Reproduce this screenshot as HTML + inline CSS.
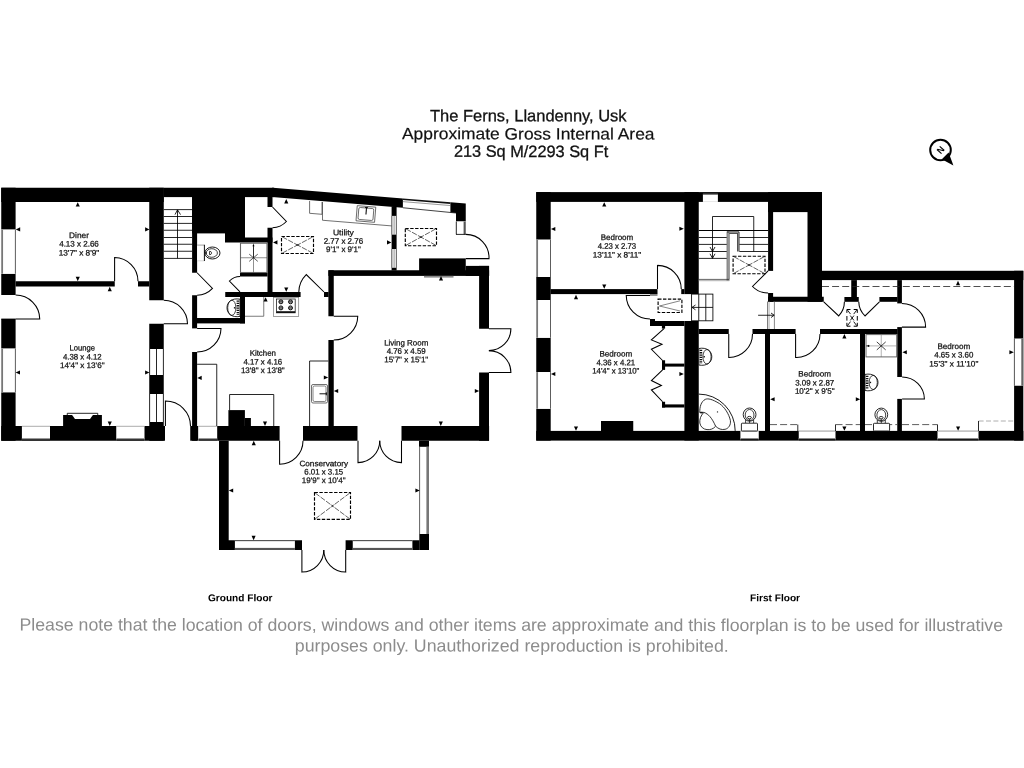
<!DOCTYPE html>
<html><head><meta charset="utf-8"><title>Floorplan</title>
<style>
html,body{margin:0;padding:0;background:#fff;}
body{width:1024px;height:768px;overflow:hidden;font-family:"Liberation Sans",sans-serif;}
svg{display:block;font-family:"Liberation Sans",sans-serif;filter:grayscale(1);}
text{text-rendering:geometricPrecision;}
</style></head><body>
<svg width="1024" height="768" viewBox="0 0 1024 768">
<rect x="0" y="0" width="1024" height="768" fill="#fff"/>
<rect x="1.25" y="187.75" width="162.50" height="14.25" fill="#000" />
<rect x="163.75" y="187.75" width="110.25" height="9.35" fill="#000" />
<polygon points="272.00,187.75 273.00,187.75 402.90,198.44 402.90,207.79 272.00,197.10" fill="#000" stroke="none" stroke-width="0"/>
<rect x="1.25" y="187.75" width="14.35" height="41.85" fill="#000" />
<rect x="1.25" y="273.75" width="14.35" height="21.25" fill="#000" />
<rect x="1.25" y="319.00" width="14.35" height="29.60" fill="#000" />
<rect x="1.25" y="392.25" width="14.35" height="48.50" fill="#000" />
<rect x="1.25" y="229.60" width="14.35" height="44.15" fill="#fff" />
<rect x="1.25" y="229.60" width="1.80" height="44.15" fill="#777" />
<line x1="15.40" y1="229.60" x2="15.40" y2="273.75" stroke="#333" stroke-width="0.8" />
<rect x="1.25" y="348.60" width="14.35" height="43.65" fill="#fff" />
<rect x="1.25" y="348.60" width="1.80" height="43.65" fill="#777" />
<line x1="15.40" y1="348.60" x2="15.40" y2="392.25" stroke="#333" stroke-width="0.8" />
<rect x="149.25" y="187.75" width="14.50" height="112.50" fill="#000" />
<rect x="149.25" y="323.75" width="14.50" height="25.25" fill="#000" />
<rect x="149.25" y="375.00" width="14.50" height="19.00" fill="#000" />
<rect x="149.25" y="422.00" width="14.50" height="18.75" fill="#000" />
<rect x="149.25" y="349.00" width="14.50" height="26.00" fill="#fff" />
<line x1="149.60" y1="349.00" x2="149.60" y2="375.00" stroke="#000" stroke-width="0.85" />
<line x1="156.50" y1="349.00" x2="156.50" y2="375.00" stroke="#000" stroke-width="0.85" />
<line x1="163.40" y1="349.00" x2="163.40" y2="375.00" stroke="#000" stroke-width="0.85" />
<rect x="149.25" y="394.00" width="14.50" height="28.00" fill="#fff" />
<line x1="149.60" y1="394.00" x2="149.60" y2="422.00" stroke="#000" stroke-width="0.85" />
<line x1="156.50" y1="394.00" x2="156.50" y2="422.00" stroke="#000" stroke-width="0.85" />
<line x1="163.40" y1="394.00" x2="163.40" y2="422.00" stroke="#000" stroke-width="0.85" />
<rect x="15.60" y="281.25" width="99.15" height="5.25" fill="#000" />
<rect x="138.00" y="281.25" width="11.25" height="5.25" fill="#000" />
<rect x="1.25" y="426.00" width="163.75" height="14.75" fill="#000" />
<rect x="21.90" y="426.00" width="28.10" height="14.75" fill="#fff" />
<rect x="21.90" y="438.15" width="28.10" height="1.20" fill="#888" />
<rect x="21.90" y="439.25" width="28.10" height="1.50" fill="#000" />
<line x1="21.90" y1="426.30" x2="50.00" y2="426.30" stroke="#888" stroke-width="0.7" />
<rect x="116.25" y="426.00" width="28.25" height="14.75" fill="#fff" />
<rect x="116.25" y="438.15" width="28.25" height="1.20" fill="#888" />
<rect x="116.25" y="439.25" width="28.25" height="1.50" fill="#000" />
<line x1="116.25" y1="426.30" x2="144.50" y2="426.30" stroke="#888" stroke-width="0.7" />
<rect x="63.10" y="415.00" width="38.80" height="11.00" fill="#000" />
<polygon points="71.90,414.80 93.10,414.80 90.00,419.10 75.00,419.10" fill="#fff" stroke="none" stroke-width="0"/>
<polyline points="67.25,415.00 67.25,413.30 97.75,413.30 97.75,415.00" fill="none" stroke="#000" stroke-width="0.85" />
<rect x="192.10" y="197.00" width="5.00" height="75.75" fill="#000" />
<rect x="192.10" y="295.25" width="5.00" height="33.15" fill="#000" />
<rect x="192.10" y="352.00" width="5.00" height="88.75" fill="#000" />
<rect x="192.10" y="197.00" width="52.90" height="36.40" fill="#000" />
<rect x="225.00" y="233.00" width="20.00" height="9.50" fill="#000" />
<rect x="245.00" y="237.50" width="27.50" height="5.00" fill="#000" />
<rect x="267.50" y="197.00" width="5.00" height="10.00" fill="#000" />
<rect x="267.50" y="227.75" width="5.00" height="64.75" fill="#000" />
<rect x="240.00" y="272.75" width="27.50" height="3.75" fill="#000" />
<rect x="225.25" y="292.00" width="75.35" height="5.00" fill="#000" />
<rect x="324.00" y="292.00" width="4.60" height="5.00" fill="#000" />
<rect x="240.00" y="292.00" width="5.00" height="31.40" fill="#000" />
<rect x="197.00" y="318.00" width="48.00" height="5.40" fill="#000" />
<rect x="328.40" y="270.25" width="160.70" height="5.65" fill="#000" />
<rect x="328.40" y="270.25" width="5.35" height="46.00" fill="#000" />
<rect x="328.40" y="340.00" width="5.35" height="86.50" fill="#000" />
<rect x="479.10" y="265.90" width="9.90" height="62.85" fill="#000" />
<rect x="479.10" y="372.50" width="9.90" height="68.25" fill="#000" />
<rect x="419.10" y="258.40" width="46.65" height="12.60" fill="#000" />
<rect x="465.75" y="265.90" width="23.35" height="10.00" fill="#000" />
<rect x="190.25" y="426.00" width="8.15" height="14.75" fill="#000" />
<rect x="217.10" y="426.00" width="62.50" height="14.75" fill="#000" />
<rect x="303.00" y="426.00" width="54.50" height="14.75" fill="#000" />
<rect x="401.50" y="426.00" width="87.60" height="14.75" fill="#000" />
<rect x="198.40" y="426.00" width="18.70" height="14.75" fill="#fff" />
<rect x="198.40" y="438.15" width="18.70" height="1.20" fill="#888" />
<rect x="198.40" y="439.25" width="18.70" height="1.50" fill="#000" />
<line x1="198.40" y1="426.30" x2="217.10" y2="426.30" stroke="#888" stroke-width="0.7" />
<rect x="228.40" y="410.10" width="16.50" height="16.40" fill="#000" />
<rect x="244.90" y="418.00" width="6.00" height="8.50" fill="#000" />
<rect x="391.60" y="206.50" width="5.00" height="64.00" fill="#000" />
<rect x="391.60" y="215.90" width="5.00" height="18.70" fill="#fff" />
<line x1="391.90" y1="215.90" x2="391.90" y2="234.60" stroke="#333" stroke-width="0.7" />
<line x1="394.10" y1="215.90" x2="394.10" y2="234.60" stroke="#666" stroke-width="0.7" />
<line x1="396.30" y1="215.90" x2="396.30" y2="234.60" stroke="#333" stroke-width="0.7" />
<rect x="391.60" y="249.00" width="5.00" height="18.75" fill="#fff" />
<line x1="391.90" y1="249.00" x2="391.90" y2="267.75" stroke="#333" stroke-width="0.7" />
<line x1="394.10" y1="249.00" x2="394.10" y2="267.75" stroke="#666" stroke-width="0.7" />
<line x1="396.30" y1="249.00" x2="396.30" y2="267.75" stroke="#333" stroke-width="0.7" />
<polygon points="450.40,202.35 465.75,203.61 465.75,221.50 456.00,221.50 456.00,213.00 450.40,212.40" fill="#000" stroke="none" stroke-width="0"/>
<line x1="402.90" y1="199.24" x2="450.40" y2="203.15" stroke="#111" stroke-width="1.6" />
<line x1="402.90" y1="201.64" x2="450.40" y2="205.55" stroke="#555" stroke-width="0.6" />
<line x1="402.90" y1="207.75" x2="456.00" y2="213.00" stroke="#111" stroke-width="0.8" />
<rect x="456.00" y="221.50" width="9.75" height="12.90" fill="#fff" />
<line x1="456.30" y1="221.50" x2="456.30" y2="234.40" stroke="#000" stroke-width="0.85" />
<rect x="463.60" y="221.50" width="2.15" height="12.90" fill="#555" />
<line x1="456.00" y1="234.40" x2="465.75" y2="234.40" stroke="#000" stroke-width="0.85" />
<rect x="424.00" y="275.90" width="29.50" height="1.70" fill="#888" />
<rect x="219.00" y="440.75" width="9.70" height="109.25" fill="#000" />
<rect x="219.00" y="540.25" width="15.90" height="9.75" fill="#000" />
<rect x="294.90" y="540.25" width="7.10" height="9.75" fill="#000" />
<rect x="345.60" y="540.25" width="7.15" height="9.75" fill="#000" />
<rect x="419.30" y="534.00" width="9.70" height="16.00" fill="#000" />
<rect x="412.40" y="540.25" width="7.00" height="9.75" fill="#000" />
<rect x="419.00" y="440.75" width="10.00" height="6.05" fill="#000" />
<line x1="234.90" y1="540.65" x2="294.90" y2="540.65" stroke="#222" stroke-width="0.9" />
<rect x="234.90" y="547.90" width="60.00" height="2.10" fill="#555" />
<line x1="352.75" y1="540.65" x2="412.40" y2="540.65" stroke="#222" stroke-width="0.9" />
<rect x="352.75" y="547.90" width="59.65" height="2.10" fill="#555" />
<line x1="419.60" y1="446.80" x2="419.60" y2="534.00" stroke="#444" stroke-width="0.85" />
<rect x="426.40" y="446.80" width="2.60" height="87.20" fill="#777" />
<line x1="163.75" y1="209.60" x2="192.10" y2="209.60" stroke="#000" stroke-width="0.85" />
<line x1="163.75" y1="216.50" x2="192.10" y2="216.50" stroke="#000" stroke-width="0.85" />
<line x1="163.75" y1="223.40" x2="192.10" y2="223.40" stroke="#000" stroke-width="0.85" />
<line x1="163.75" y1="230.25" x2="192.10" y2="230.25" stroke="#000" stroke-width="0.85" />
<line x1="163.75" y1="237.50" x2="192.10" y2="237.50" stroke="#000" stroke-width="0.85" />
<line x1="163.75" y1="244.25" x2="192.10" y2="244.25" stroke="#000" stroke-width="0.85" />
<line x1="163.75" y1="251.25" x2="192.10" y2="251.25" stroke="#000" stroke-width="0.85" />
<line x1="163.75" y1="258.40" x2="192.10" y2="258.40" stroke="#000" stroke-width="0.85" />
<line x1="177.50" y1="258.40" x2="177.50" y2="210.00" stroke="#000" stroke-width="0.85" />
<polyline points="175.00,214.60 177.50,209.80 180.50,214.60" fill="none" stroke="#000" stroke-width="0.85" />
<path d="M114.60,281.25 L114.60,257.50 A23.75,23.75 0 0 1 138.00,281.25" fill="none" stroke="#000" stroke-width="1.05" />
<path d="M15.60,319.00 L39.75,319.00 A24.15,24.15 0 0 0 15.60,295.00" fill="none" stroke="#000" stroke-width="1.05" />
<line x1="1.25" y1="319.00" x2="15.60" y2="319.00" stroke="#000" stroke-width="0.8" />
<path d="M163.75,323.75 L187.50,323.75 A23.75,23.75 0 0 0 163.75,300.25" fill="none" stroke="#000" stroke-width="1.05" />
<path d="M165.40,426.00 L165.40,401.00 A25.00,25.00 0 0 1 190.50,426.00" fill="none" stroke="#000" stroke-width="1.05" />
<path d="M197.10,272.75 L212.50,288.40 A21.96,21.96 0 0 1 197.10,295.25" fill="none" stroke="#000" stroke-width="1.05" />
<path d="M197.10,328.40 L221.00,328.40 A23.90,23.90 0 0 1 197.10,352.00" fill="none" stroke="#000" stroke-width="1.05" />
<path d="M240.00,291.80 L229.40,281.00 A15.13,15.13 0 0 1 240.00,276.50" fill="none" stroke="#000" stroke-width="1.05" />
<path d="M272.50,207.00 L286.40,221.50 A20.09,20.09 0 0 1 272.50,227.75" fill="none" stroke="#000" stroke-width="1.05" />
<path d="M324.00,292.00 L306.25,274.60 A24.86,24.86 0 0 0 298.80,292.00" fill="none" stroke="#000" stroke-width="1.05" />
<path d="M333.75,316.25 L357.75,316.25 A24.00,24.00 0 0 1 333.75,340.00" fill="none" stroke="#000" stroke-width="1.05" />
<path d="M279.60,440.75 L279.60,464.20 A23.45,23.45 0 0 0 303.00,440.75" fill="none" stroke="#000" stroke-width="1.05" />
<path d="M358.00,440.75 L358.00,462.60 A21.85,21.85 0 0 0 379.75,440.75" fill="none" stroke="#000" stroke-width="1.05" />
<path d="M401.50,440.75 L401.50,462.60 A21.85,21.85 0 0 1 379.75,440.75" fill="none" stroke="#000" stroke-width="1.05" />
<path d="M488.90,328.75 L510.90,328.75 A22.00,22.00 0 0 1 488.90,350.60" fill="none" stroke="#000" stroke-width="1.05" />
<path d="M488.90,372.50 L510.90,372.50 A22.00,22.00 0 0 0 488.90,350.60" fill="none" stroke="#000" stroke-width="1.05" />
<path d="M465.75,258.60 L489.00,258.60 A23.25,23.25 0 0 0 465.75,234.40" fill="none" stroke="#000" stroke-width="1.05" />
<path d="M301.90,550.00 L301.90,572.10 A22.10,22.10 0 0 0 323.80,550.00" fill="none" stroke="#000" stroke-width="1.05" />
<path d="M345.70,550.00 L345.70,572.10 A22.10,22.10 0 0 1 323.80,550.00" fill="none" stroke="#000" stroke-width="1.05" />
<rect x="197.20" y="245.10" width="7.20" height="15.70" fill="#fff" />
<line x1="197.10" y1="245.10" x2="204.40" y2="245.10" stroke="#777" stroke-width="0.7" />
<line x1="197.10" y1="260.80" x2="204.40" y2="260.80" stroke="#bbb" stroke-width="0.6" />
<line x1="204.40" y1="244.80" x2="204.40" y2="261.00" stroke="#000" stroke-width="0.95" />
<ellipse cx="212.4" cy="253" rx="7.6" ry="6" fill="#fff" stroke="#000" stroke-width="0.9"/>
<ellipse cx="211.8" cy="253" rx="5.6" ry="4.3" fill="none" stroke="#111" stroke-width="0.8"/>
<path d="M209.6,251.3 L209.6,254.7 C212.2,254.9 212.2,251.1 209.6,251.3 Z" fill="none" stroke="#000" stroke-width="0.8"/>
<polygon points="204.60,253.00 206.40,251.80 206.40,254.20" fill="#000" stroke="none" stroke-width="0"/>
<rect x="240.5" y="243.2" width="26.5" height="29.3" fill="#fff" stroke="#666" stroke-width="1.1"/>
<line x1="253.50" y1="243.50" x2="253.50" y2="272.50" stroke="#444" stroke-width="0.6" />
<line x1="240.50" y1="257.75" x2="267.00" y2="257.75" stroke="#444" stroke-width="0.6" />
<line x1="249.21" y1="254.15" x2="257.79" y2="261.35" stroke="#111" stroke-width="0.7" />
<line x1="257.79" y1="254.15" x2="249.21" y2="261.35" stroke="#111" stroke-width="0.7" />
<line x1="253.50" y1="245.30" x2="253.50" y2="257.75" stroke="#111" stroke-width="0.8" />
<polygon points="253.50,244.20 252.40,246.20 254.60,246.20" fill="#000" stroke="none" stroke-width="0"/>
<path d="M240,299.20 C232,297.70 227,301.90 227,307.80 C227,313.70 232,317.90 240,316.40 Z" fill="#fff" stroke="#111" stroke-width="0.9"/>
<ellipse cx="231.8" cy="307.80" rx="4.1" ry="7.60" fill="none" stroke="#111" stroke-width="0.8"/>
<line x1="237.9" y1="300.50" x2="237.9" y2="315.10" stroke="#111" stroke-width="2.6" stroke-dasharray="1.3,1"/>
<rect x="233.90" y="307.10" width="1.4" height="1.4" fill="#111"/>
<polyline points="245.00,316.25 263.75,316.25 263.75,297.00" fill="none" stroke="#444" stroke-width="0.7" />
<rect x="273.4" y="297.6" width="25.3" height="18.9" fill="#fff" stroke="#777" stroke-width="0.7"/>
<rect x="276.5" y="299" width="18.7" height="13.8" fill="#fff" stroke="#222" stroke-width="0.8"/>
<circle cx="280.9" cy="301.8" r="2" fill="#999" stroke="#000" stroke-width="0.9"/>
<line x1="278.90" y1="301.80" x2="282.90" y2="301.80" stroke="#111" stroke-width="0.6" />
<circle cx="290.5" cy="301.8" r="2" fill="#999" stroke="#000" stroke-width="0.9"/>
<line x1="288.50" y1="301.80" x2="292.50" y2="301.80" stroke="#111" stroke-width="0.6" />
<circle cx="280.9" cy="307.9" r="2" fill="#999" stroke="#000" stroke-width="0.9"/>
<line x1="278.90" y1="307.90" x2="282.90" y2="307.90" stroke="#111" stroke-width="0.6" />
<circle cx="290.5" cy="307.9" r="2" fill="#999" stroke="#000" stroke-width="0.9"/>
<line x1="288.50" y1="307.90" x2="292.50" y2="307.90" stroke="#111" stroke-width="0.6" />
<rect x="276.50" y="311.20" width="18.70" height="1.80" fill="#111" />
<polyline points="197.10,364.25 216.75,364.25 216.75,426.00" fill="none" stroke="#000" stroke-width="0.85" />
<polyline points="229.60,410.00 229.60,394.50 273.75,394.50 273.75,426.00" fill="none" stroke="#000" stroke-width="0.85" />
<polyline points="328.40,361.00 309.60,361.00 309.60,426.00" fill="none" stroke="#000" stroke-width="0.85" />
<rect x="311.5" y="384.5" width="16" height="18.5" rx="1.5" fill="#fff" stroke="#333" stroke-width="0.7"/>
<rect x="313" y="386" width="13" height="15.5" rx="1.5" fill="none" stroke="#333" stroke-width="0.6"/>
<line x1="319.50" y1="393.80" x2="327.00" y2="393.80" stroke="#111" stroke-width="1" />
<line x1="326.30" y1="392.30" x2="326.30" y2="395.30" stroke="#111" stroke-width="1" />
<polyline points="309.60,201.00 309.60,213.30 322.00,214.30 322.00,202.00" fill="none" stroke="#333" stroke-width="0.7" />
<polyline points="322.50,202.00 322.50,220.25 391.60,225.90" fill="none" stroke="#333" stroke-width="0.7" />
<g transform="rotate(4.7 366 214)"><rect x="356.6" y="206.4" width="18.6" height="15.2" fill="#fff" stroke="#333" stroke-width="0.7"/><rect x="358.4" y="208" width="15" height="12" rx="1.5" fill="none" stroke="#333" stroke-width="0.7"/><line x1="366" y1="207" x2="366" y2="214.5" stroke="#111" stroke-width="1.1"/><line x1="364.5" y1="207.6" x2="367.5" y2="207.6" stroke="#111" stroke-width="1"/></g>
<rect x="281.50" y="236.50" width="32.00" height="17.00" fill="none" stroke="#000" stroke-width="1.15" stroke-dasharray="3.4,1.5"/>
<line x1="282.21" y1="236.88" x2="298.56" y2="245.56" stroke="#222" stroke-width="0.7" stroke-dasharray="5.5,1.3"/>
<line x1="312.79" y1="236.88" x2="296.44" y2="245.56" stroke="#222" stroke-width="0.7" stroke-dasharray="5.5,1.3"/>
<line x1="282.21" y1="253.12" x2="298.56" y2="244.44" stroke="#222" stroke-width="0.7" stroke-dasharray="5.5,1.3"/>
<line x1="312.79" y1="253.12" x2="296.44" y2="244.44" stroke="#222" stroke-width="0.7" stroke-dasharray="5.5,1.3"/>
<rect x="405.30" y="228.50" width="31.20" height="17.20" fill="none" stroke="#000" stroke-width="1.15" stroke-dasharray="3.4,1.5"/>
<line x1="406.00" y1="228.89" x2="421.95" y2="237.68" stroke="#222" stroke-width="0.7" stroke-dasharray="5.5,1.3"/>
<line x1="435.80" y1="228.89" x2="419.85" y2="237.68" stroke="#222" stroke-width="0.7" stroke-dasharray="5.5,1.3"/>
<line x1="406.00" y1="245.31" x2="421.95" y2="236.52" stroke="#222" stroke-width="0.7" stroke-dasharray="5.5,1.3"/>
<line x1="435.80" y1="245.31" x2="419.85" y2="236.52" stroke="#222" stroke-width="0.7" stroke-dasharray="5.5,1.3"/>
<rect x="314.50" y="492.50" width="36.00" height="26.90" fill="none" stroke="#000" stroke-width="1.15" stroke-dasharray="3.4,1.5"/>
<line x1="315.14" y1="492.98" x2="333.46" y2="506.67" stroke="#222" stroke-width="0.7" stroke-dasharray="5.5,1.3"/>
<line x1="349.86" y1="492.98" x2="331.54" y2="506.67" stroke="#222" stroke-width="0.7" stroke-dasharray="5.5,1.3"/>
<line x1="315.14" y1="518.92" x2="333.46" y2="505.23" stroke="#222" stroke-width="0.7" stroke-dasharray="5.5,1.3"/>
<line x1="349.86" y1="518.92" x2="331.54" y2="505.23" stroke="#222" stroke-width="0.7" stroke-dasharray="5.5,1.3"/>
<polygon points="77.75,202.20 75.70,206.60 79.80,206.60" fill="#000" stroke="none" stroke-width="0"/>
<polygon points="15.80,229.40 20.20,227.35 20.20,231.45" fill="#000" stroke="none" stroke-width="0"/>
<polygon points="149.50,229.40 145.10,227.35 145.10,231.45" fill="#000" stroke="none" stroke-width="0"/>
<polygon points="77.75,281.20 75.70,276.80 79.80,276.80" fill="#000" stroke="none" stroke-width="0"/>
<polygon points="109.75,286.80 107.70,291.20 111.80,291.20" fill="#000" stroke="none" stroke-width="0"/>
<polygon points="15.60,372.50 20.00,370.45 20.00,374.55" fill="#000" stroke="none" stroke-width="0"/>
<polygon points="149.50,372.50 145.10,370.45 145.10,374.55" fill="#000" stroke="none" stroke-width="0"/>
<polygon points="109.75,425.90 107.70,421.50 111.80,421.50" fill="#000" stroke="none" stroke-width="0"/>
<polygon points="286.25,199.00 284.20,203.40 288.30,203.40" fill="#000" stroke="none" stroke-width="0"/>
<polygon points="273.05,242.40 277.45,240.35 277.45,244.45" fill="#000" stroke="none" stroke-width="0"/>
<polygon points="391.40,242.40 387.00,240.35 387.00,244.45" fill="#000" stroke="none" stroke-width="0"/>
<polygon points="286.25,291.80 284.20,287.40 288.30,287.40" fill="#000" stroke="none" stroke-width="0"/>
<polygon points="265.60,297.20 263.55,301.60 267.65,301.60" fill="#000" stroke="none" stroke-width="0"/>
<polygon points="197.30,377.90 201.70,375.85 201.70,379.95" fill="#000" stroke="none" stroke-width="0"/>
<polygon points="328.20,377.50 323.80,375.45 323.80,379.55" fill="#000" stroke="none" stroke-width="0"/>
<polygon points="265.00,425.90 262.95,421.50 267.05,421.50" fill="#000" stroke="none" stroke-width="0"/>
<polygon points="333.80,391.00 338.20,388.95 338.20,393.05" fill="#000" stroke="none" stroke-width="0"/>
<polygon points="479.20,391.00 474.80,388.95 474.80,393.05" fill="#000" stroke="none" stroke-width="0"/>
<polygon points="441.00,276.00 438.95,280.40 443.05,280.40" fill="#000" stroke="none" stroke-width="0"/>
<polygon points="440.80,425.90 438.75,421.50 442.85,421.50" fill="#000" stroke="none" stroke-width="0"/>
<polygon points="253.75,440.80 251.70,445.20 255.80,445.20" fill="#000" stroke="none" stroke-width="0"/>
<polygon points="228.80,490.50 233.20,488.45 233.20,492.55" fill="#000" stroke="none" stroke-width="0"/>
<polygon points="419.80,490.50 415.40,488.45 415.40,492.55" fill="#000" stroke="none" stroke-width="0"/>
<polygon points="253.60,540.20 251.55,535.80 255.65,535.80" fill="#000" stroke="none" stroke-width="0"/>
<rect x="536.25" y="192.10" width="285.75" height="9.80" fill="#000" />
<rect x="536.25" y="192.10" width="14.45" height="47.60" fill="#000" />
<rect x="536.25" y="277.00" width="14.45" height="23.00" fill="#000" />
<rect x="536.25" y="337.75" width="14.45" height="34.35" fill="#000" />
<rect x="536.25" y="408.75" width="14.45" height="31.85" fill="#000" />
<rect x="536.25" y="239.70" width="14.45" height="37.30" fill="#fff" />
<rect x="536.25" y="239.70" width="1.80" height="37.30" fill="#777" />
<line x1="550.50" y1="239.70" x2="550.50" y2="277.00" stroke="#333" stroke-width="0.8" />
<rect x="536.25" y="300.00" width="14.45" height="37.75" fill="#fff" />
<rect x="536.25" y="300.00" width="1.80" height="37.75" fill="#777" />
<line x1="550.50" y1="300.00" x2="550.50" y2="337.75" stroke="#333" stroke-width="0.8" />
<rect x="536.25" y="372.10" width="14.45" height="36.65" fill="#fff" />
<rect x="536.25" y="372.10" width="1.80" height="36.65" fill="#777" />
<line x1="550.50" y1="372.10" x2="550.50" y2="408.75" stroke="#333" stroke-width="0.8" />
<rect x="536.25" y="430.90" width="487.05" height="9.70" fill="#000" />
<rect x="740.40" y="430.90" width="18.35" height="9.70" fill="#fff" />
<rect x="740.40" y="438.00" width="18.35" height="1.20" fill="#888" />
<rect x="740.40" y="439.10" width="18.35" height="1.50" fill="#000" />
<line x1="740.40" y1="431.20" x2="758.75" y2="431.20" stroke="#888" stroke-width="0.7" />
<rect x="798.75" y="430.90" width="36.75" height="9.70" fill="#fff" />
<rect x="798.75" y="438.00" width="36.75" height="1.20" fill="#888" />
<rect x="798.75" y="439.10" width="36.75" height="1.50" fill="#000" />
<line x1="798.75" y1="431.20" x2="835.50" y2="431.20" stroke="#888" stroke-width="0.7" />
<rect x="937.50" y="430.90" width="41.00" height="9.70" fill="#fff" />
<rect x="937.50" y="438.00" width="41.00" height="1.20" fill="#888" />
<rect x="937.50" y="439.10" width="41.00" height="1.50" fill="#000" />
<line x1="937.50" y1="431.20" x2="978.50" y2="431.20" stroke="#888" stroke-width="0.7" />
<rect x="684.40" y="192.10" width="14.35" height="102.00" fill="#000" />
<rect x="684.40" y="321.00" width="14.35" height="119.50" fill="#000" />
<rect x="550.50" y="289.10" width="107.00" height="5.00" fill="#000" />
<rect x="681.25" y="289.10" width="3.15" height="5.00" fill="#000" />
<rect x="650.00" y="321.00" width="34.40" height="5.00" fill="#000" />
<rect x="650.00" y="319.00" width="5.00" height="2.50" fill="#000" />
<rect x="662.00" y="363.60" width="22.40" height="3.00" fill="#000" />
<rect x="662.00" y="404.40" width="22.40" height="3.10" fill="#000" />
<rect x="661.90" y="326.00" width="3.20" height="2.60" fill="#000" />
<rect x="662.00" y="360.25" width="3.10" height="9.65" fill="#000" />
<rect x="662.00" y="401.75" width="3.10" height="5.75" fill="#000" />
<rect x="601.00" y="421.00" width="32.25" height="10.00" fill="#000" />
<rect x="702.90" y="194.40" width="15.00" height="7.50" fill="#fff" />
<rect x="702.90" y="193.60" width="15.00" height="1.20" fill="#777" />
<rect x="768.10" y="201.90" width="5.00" height="69.00" fill="#000" />
<rect x="768.10" y="293.00" width="5.00" height="8.80" fill="#000" />
<rect x="768.10" y="192.10" width="53.90" height="20.00" fill="#000" />
<rect x="807.50" y="192.10" width="14.50" height="109.70" fill="#000" />
<rect x="768.10" y="296.75" width="55.65" height="5.05" fill="#000" />
<rect x="821.90" y="270.80" width="201.40" height="9.30" fill="#000" />
<rect x="1014.10" y="270.80" width="9.20" height="169.80" fill="#000" />
<rect x="1014.10" y="338.50" width="9.20" height="47.25" fill="#fff" />
<rect x="1021.30" y="338.50" width="2.00" height="47.25" fill="#666" />
<line x1="1014.40" y1="338.50" x2="1014.40" y2="385.75" stroke="#333" stroke-width="0.8" />
<rect x="851.25" y="280.10" width="5.65" height="17.40" fill="#000" />
<rect x="844.40" y="297.00" width="14.35" height="4.80" fill="#000" />
<rect x="897.25" y="280.10" width="4.65" height="23.30" fill="#000" />
<rect x="879.40" y="297.00" width="18.10" height="4.80" fill="#000" />
<rect x="698.75" y="329.00" width="30.00" height="5.00" fill="#000" />
<rect x="752.50" y="329.00" width="43.10" height="5.00" fill="#000" />
<rect x="820.00" y="329.00" width="77.50" height="5.00" fill="#000" />
<rect x="765.00" y="334.00" width="5.00" height="97.00" fill="#000" />
<rect x="860.00" y="334.00" width="5.00" height="97.00" fill="#000" />
<rect x="897.25" y="327.10" width="4.65" height="49.90" fill="#000" />
<rect x="897.25" y="398.90" width="4.65" height="32.10" fill="#000" />
<line x1="822.00" y1="286.50" x2="1014.00" y2="286.50" stroke="#222" stroke-width="0.8" stroke-dasharray="7,3.1"/>
<line x1="770.00" y1="424.60" x2="797.50" y2="424.60" stroke="#333" stroke-width="0.8" stroke-dasharray="7,3.1"/>
<line x1="797.80" y1="424.60" x2="797.80" y2="431.00" stroke="#000" stroke-width="0.85" />
<line x1="835.50" y1="424.60" x2="860.00" y2="424.60" stroke="#333" stroke-width="0.8" stroke-dasharray="7,3.1"/>
<line x1="835.50" y1="424.60" x2="835.50" y2="431.00" stroke="#000" stroke-width="0.85" />
<line x1="865.00" y1="424.60" x2="897.00" y2="424.60" stroke="#333" stroke-width="0.8" stroke-dasharray="7,3.1"/>
<line x1="902.00" y1="424.60" x2="937.50" y2="424.60" stroke="#333" stroke-width="0.8" stroke-dasharray="7,3.1"/>
<line x1="937.50" y1="424.60" x2="937.50" y2="431.00" stroke="#000" stroke-width="0.85" />
<line x1="978.60" y1="421.00" x2="1014.00" y2="421.00" stroke="#999" stroke-width="0.8" stroke-dasharray="5,2.4"/>
<line x1="978.50" y1="421.00" x2="978.50" y2="431.00" stroke="#000" stroke-width="0.85" />
<line x1="698.75" y1="230.50" x2="768.10" y2="230.50" stroke="#000" stroke-width="1.0" />
<line x1="698.75" y1="237.50" x2="726.90" y2="237.50" stroke="#000" stroke-width="0.85" />
<line x1="698.75" y1="244.40" x2="726.90" y2="244.40" stroke="#000" stroke-width="0.85" />
<line x1="698.75" y1="251.50" x2="726.90" y2="251.50" stroke="#000" stroke-width="0.85" />
<line x1="698.75" y1="258.40" x2="726.90" y2="258.40" stroke="#000" stroke-width="0.85" />
<line x1="739.40" y1="237.50" x2="768.10" y2="237.50" stroke="#000" stroke-width="0.85" />
<line x1="739.40" y1="244.40" x2="768.10" y2="244.40" stroke="#000" stroke-width="0.85" />
<line x1="739.40" y1="251.50" x2="768.10" y2="251.50" stroke="#000" stroke-width="0.85" />
<polyline points="712.50,258.40 712.50,216.50 753.75,216.50 753.75,251.50" fill="none" stroke="#000" stroke-width="0.85" />
<polyline points="710.00,247.00 712.50,251.50 715.00,247.00" fill="none" stroke="#000" stroke-width="0.85" />
<polyline points="710.00,253.80 712.50,258.30 715.00,253.80" fill="none" stroke="#000" stroke-width="0.85" />
<rect x="726.90" y="231.50" width="2.50" height="49.40" fill="#999" />
<line x1="726.90" y1="231.50" x2="726.90" y2="280.90" stroke="#555" stroke-width="0.5" />
<line x1="729.40" y1="233.00" x2="729.40" y2="279.00" stroke="#555" stroke-width="0.5" />
<polyline points="727.00,231.90 739.00,231.90 739.00,251.50" fill="none" stroke="#000" stroke-width="0.85" />
<polyline points="729.40,233.30 737.70,233.30 737.70,251.50" fill="none" stroke="#000" stroke-width="0.85" />
<line x1="698.75" y1="279.40" x2="729.40" y2="279.40" stroke="#222" stroke-width="0.7" />
<line x1="698.75" y1="280.70" x2="729.40" y2="280.70" stroke="#999" stroke-width="0.8" />
<rect x="733.10" y="256.25" width="31.90" height="17.50" fill="none" stroke="#000" stroke-width="1.15" stroke-dasharray="3.4,1.5"/>
<line x1="733.80" y1="256.63" x2="750.10" y2="265.58" stroke="#222" stroke-width="0.7" stroke-dasharray="5.5,1.3"/>
<line x1="764.30" y1="256.63" x2="748.00" y2="265.58" stroke="#222" stroke-width="0.7" stroke-dasharray="5.5,1.3"/>
<line x1="733.80" y1="273.37" x2="750.10" y2="264.42" stroke="#222" stroke-width="0.7" stroke-dasharray="5.5,1.3"/>
<line x1="764.30" y1="273.37" x2="748.00" y2="264.42" stroke="#222" stroke-width="0.7" stroke-dasharray="5.5,1.3"/>
<rect x="691.6" y="294.1" width="21.3" height="26.7" fill="#fff" stroke="#000" stroke-width="0.85"/>
<line x1="698.75" y1="294.10" x2="698.75" y2="320.80" stroke="#000" stroke-width="0.85" />
<line x1="705.80" y1="294.10" x2="705.80" y2="320.80" stroke="#000" stroke-width="0.85" />
<line x1="692.00" y1="307.40" x2="712.90" y2="307.40" stroke="#000" stroke-width="0.85" />
<polyline points="695.50,305.00 692.00,307.40 695.50,309.80" fill="none" stroke="#000" stroke-width="0.85" />
<rect x="658.10" y="299.10" width="23.80" height="13.40" fill="none" stroke="#000" stroke-width="1.15" stroke-dasharray="3.4,1.5"/>
<polyline points="680.00,300.80 659.50,306.00 680.00,311.00" fill="none" stroke="#333" stroke-width="0.6" />
<line x1="767.60" y1="301.50" x2="767.60" y2="329.00" stroke="#333" stroke-width="0.7" />
<line x1="769.10" y1="301.50" x2="769.10" y2="329.00" stroke="#999" stroke-width="0.7" />
<line x1="774.40" y1="301.50" x2="774.40" y2="329.00" stroke="#555" stroke-width="0.7" />
<line x1="758.10" y1="315.25" x2="774.00" y2="315.25" stroke="#000" stroke-width="0.85" />
<polyline points="771.00,313.00 774.20,315.25 771.00,317.50" fill="none" stroke="#000" stroke-width="0.85" />
<polyline points="850.50,309.50 846.90,309.50 846.90,312.90" fill="none" stroke="#000" stroke-width="1.0" />
<line x1="847.50" y1="310.10" x2="850.50" y2="314.10" stroke="#000" stroke-width="0.9" />
<polyline points="853.70,309.50 857.30,309.50 857.30,312.90" fill="none" stroke="#000" stroke-width="1.0" />
<line x1="856.70" y1="310.10" x2="853.70" y2="314.10" stroke="#000" stroke-width="0.9" />
<polyline points="850.50,326.20 846.90,326.20 846.90,322.80" fill="none" stroke="#000" stroke-width="1.0" />
<line x1="847.50" y1="325.60" x2="850.50" y2="321.60" stroke="#000" stroke-width="0.9" />
<polyline points="853.70,326.20 857.30,326.20 857.30,322.80" fill="none" stroke="#000" stroke-width="1.0" />
<line x1="856.70" y1="325.60" x2="853.70" y2="321.60" stroke="#000" stroke-width="0.9" />
<line x1="846.90" y1="316.00" x2="846.90" y2="320.60" stroke="#000" stroke-width="1.0" />
<line x1="857.30" y1="316.00" x2="857.30" y2="320.60" stroke="#000" stroke-width="1.0" />
<line x1="850.30" y1="315.60" x2="853.90" y2="320.40" stroke="#000" stroke-width="0.9" />
<line x1="853.90" y1="315.60" x2="850.30" y2="320.40" stroke="#000" stroke-width="0.9" />
<path d="M657.50,289.10 L657.50,265.40 A23.70,23.70 0 0 1 681.25,289.10" fill="none" stroke="#000" stroke-width="1.05" />
<path d="M650.00,295.40 L626.25,295.40 A23.75,23.75 0 0 0 650.00,319.00" fill="none" stroke="#000" stroke-width="1.05" />
<line x1="650.00" y1="295.00" x2="657.50" y2="295.00" stroke="#000" stroke-width="0.85" />
<path d="M768.10,270.90 L752.50,286.50 A22.06,22.06 0 0 0 768.10,293.00" fill="none" stroke="#000" stroke-width="1.05" />
<path d="M728.75,334.00 L728.75,357.50 A23.50,23.50 0 0 0 752.50,334.00" fill="none" stroke="#000" stroke-width="1.05" />
<path d="M795.60,334.00 L795.60,357.50 A23.50,23.50 0 0 0 820.00,334.00" fill="none" stroke="#000" stroke-width="1.05" />
<path d="M823.75,301.80 L838.75,315.90 A20.59,20.59 0 0 0 844.40,301.80" fill="none" stroke="#000" stroke-width="1.05" />
<path d="M879.40,301.80 L865.00,315.90 A20.15,20.15 0 0 1 858.75,301.80" fill="none" stroke="#000" stroke-width="1.05" />
<path d="M901.90,327.10 L925.60,327.10 A23.70,23.70 0 0 0 901.90,303.40" fill="none" stroke="#000" stroke-width="1.05" />
<path d="M902.10,399.00 L924.40,399.00 A22.30,22.30 0 0 0 902.10,377.00" fill="none" stroke="#000" stroke-width="1.05" />
<polyline points="664.00,328.60 651.40,339.90 662.00,344.25 651.40,349.25 662.60,360.50" fill="none" stroke="#000" stroke-width="1.05" />
<polyline points="662.60,369.90 651.40,380.50 661.40,385.50 651.40,389.90 662.60,401.75" fill="none" stroke="#000" stroke-width="1.05" />
<rect x="866" y="334.6" width="30.7" height="22.3" fill="#fff" stroke="#666" stroke-width="1"/>
<line x1="881.25" y1="335.00" x2="881.25" y2="357.00" stroke="#666" stroke-width="0.5" />
<line x1="866.00" y1="345.90" x2="896.50" y2="345.90" stroke="#666" stroke-width="0.5" />
<line x1="876.79" y1="341.89" x2="885.71" y2="349.91" stroke="#111" stroke-width="0.8" />
<line x1="885.71" y1="341.89" x2="876.79" y2="349.91" stroke="#111" stroke-width="0.8" />
<line x1="866.50" y1="345.90" x2="869.00" y2="345.90" stroke="#000" stroke-width="0.85" />
<polygon points="870.00,345.90 868.00,344.80 868.00,347.00" fill="#000" stroke="none" stroke-width="0"/>
<path d="M698.8,348.50 C706.8,347.00 711.8,351.20 711.8,356.75 C711.8,362.30 706.8,366.50 698.8,365.00 Z" fill="#fff" stroke="#111" stroke-width="0.9"/>
<ellipse cx="707.0" cy="356.75" rx="4.1" ry="7.25" fill="none" stroke="#111" stroke-width="0.8"/>
<line x1="700.9" y1="349.80" x2="700.9" y2="363.70" stroke="#111" stroke-width="2.6" stroke-dasharray="1.3,1"/>
<rect x="703.50" y="356.05" width="1.4" height="1.4" fill="#111"/>
<path d="M865,374.40 C873,372.90 878,377.10 878,382.45 C878,387.80 873,392.00 865,390.50 Z" fill="#fff" stroke="#111" stroke-width="0.9"/>
<ellipse cx="873.2" cy="382.45" rx="4.1" ry="7.05" fill="none" stroke="#111" stroke-width="0.8"/>
<line x1="867.1" y1="375.70" x2="867.1" y2="389.20" stroke="#111" stroke-width="2.6" stroke-dasharray="1.3,1"/>
<rect x="869.70" y="381.75" width="1.4" height="1.4" fill="#111"/>
<ellipse cx="749.6" cy="414.6" rx="6.4" ry="6.6" fill="#fff" stroke="#111" stroke-width="0.9"/>
<ellipse cx="749.6" cy="415.0" rx="4.4" ry="5.5" fill="none" stroke="#111" stroke-width="0.8"/>
<ellipse cx="749.4" cy="417.6" rx="2" ry="1.2" fill="none" stroke="#111" stroke-width="0.9"/>
<line x1="745.60" y1="419.80" x2="745.60" y2="423.20" stroke="#111" stroke-width="0.8" />
<line x1="749.60" y1="419.00" x2="749.60" y2="423.20" stroke="#111" stroke-width="0.8" />
<line x1="753.60" y1="419.80" x2="753.60" y2="423.20" stroke="#111" stroke-width="0.8" />
<rect x="741.4" y="423.2" width="16.10" height="7.80" rx="0.8" fill="#fff" stroke="#111" stroke-width="0.9"/>
<ellipse cx="881.3" cy="414.7" rx="6.4" ry="6.6" fill="#fff" stroke="#111" stroke-width="0.9"/>
<ellipse cx="881.3" cy="415.09999999999997" rx="4.4" ry="5.5" fill="none" stroke="#111" stroke-width="0.8"/>
<ellipse cx="881.0999999999999" cy="417.7" rx="2" ry="1.2" fill="none" stroke="#111" stroke-width="0.9"/>
<line x1="877.30" y1="419.90" x2="877.30" y2="423.30" stroke="#111" stroke-width="0.8" />
<line x1="881.30" y1="419.10" x2="881.30" y2="423.30" stroke="#111" stroke-width="0.8" />
<line x1="885.30" y1="419.90" x2="885.30" y2="423.30" stroke="#111" stroke-width="0.8" />
<rect x="873.5" y="423.3" width="16.10" height="7.70" rx="0.8" fill="#fff" stroke="#111" stroke-width="0.9"/>
<path d="M698.75,394.1 A36.5,36.7 0 0 1 735.2,430.9" fill="none" stroke="#000" stroke-width="0.9" />
<path d="M699.8,412.4 C699.6,407 701,401.5 705.4,399.3 C708,398.3 712,399 719.5,403.6 C724.5,407 729,414 730.4,420.5 C731,425 728.5,428.5 725.1,429.3 C721.5,430 718.5,429 715.6,426.2 C713.5,429 710,430 707,429.6 C703.5,429.3 700.5,427 699.8,423 C699.4,419.5 700.8,415.5 703.5,412.8" fill="none" stroke="#000" stroke-width="0.8" />
<path d="M699.6,412.5 L703.9,412.4 C708.5,414 712,418 715.6,426.2" fill="none" stroke="#000" stroke-width="0.8" />
<rect x="700.30" y="411.80" width="2.30" height="1.60" fill="#111" />
<circle cx="717.5" cy="411.9" r="0.7" fill="#222"/>
<polygon points="604.25,202.20 602.20,206.60 606.30,206.60" fill="#000" stroke="none" stroke-width="0"/>
<polygon points="550.90,229.00 555.30,226.95 555.30,231.05" fill="#000" stroke="none" stroke-width="0"/>
<polygon points="683.80,228.80 679.40,226.75 679.40,230.85" fill="#000" stroke="none" stroke-width="0"/>
<polygon points="604.25,288.80 602.20,284.40 606.30,284.40" fill="#000" stroke="none" stroke-width="0"/>
<polygon points="576.00,294.80 573.95,299.20 578.05,299.20" fill="#000" stroke="none" stroke-width="0"/>
<polygon points="550.90,374.00 555.30,371.95 555.30,376.05" fill="#000" stroke="none" stroke-width="0"/>
<polygon points="683.80,374.00 679.40,371.95 679.40,376.05" fill="#000" stroke="none" stroke-width="0"/>
<polygon points="576.00,430.80 573.95,426.40 578.05,426.40" fill="#000" stroke="none" stroke-width="0"/>
<polygon points="844.40,334.10 842.35,338.50 846.45,338.50" fill="#000" stroke="none" stroke-width="0"/>
<polygon points="770.20,399.30 774.60,397.25 774.60,401.35" fill="#000" stroke="none" stroke-width="0"/>
<polygon points="860.20,399.30 855.80,397.25 855.80,401.35" fill="#000" stroke="none" stroke-width="0"/>
<polygon points="844.40,430.80 842.35,426.40 846.45,426.40" fill="#000" stroke="none" stroke-width="0"/>
<polygon points="958.00,280.80 955.95,285.20 960.05,285.20" fill="#000" stroke="none" stroke-width="0"/>
<polygon points="902.40,352.30 906.80,350.25 906.80,354.35" fill="#000" stroke="none" stroke-width="0"/>
<polygon points="1013.80,352.30 1009.40,350.25 1009.40,354.35" fill="#000" stroke="none" stroke-width="0"/>
<polygon points="958.10,430.80 956.05,426.40 960.15,426.40" fill="#000" stroke="none" stroke-width="0"/>
<text x="79.00" y="238.00" font-size="8" text-anchor="middle" font-weight="normal" fill="#111" stroke="#111" stroke-width="0.25" textLength="19.9" lengthAdjust="spacingAndGlyphs" transform="rotate(0.03 79.0 238.0)">Diner</text>
<text x="79.00" y="246.50" font-size="8" text-anchor="middle" font-weight="normal" fill="#111" stroke="#111" stroke-width="0.25" textLength="39.6" lengthAdjust="spacingAndGlyphs" transform="rotate(0.03 79.0 246.5)">4.13 x 2.66</text>
<text x="79.00" y="255.50" font-size="8" text-anchor="middle" font-weight="normal" fill="#111" stroke="#111" stroke-width="0.25" textLength="40.6" lengthAdjust="spacingAndGlyphs" transform="rotate(0.03 79.0 255.5)">13'7&quot; x 8'9&quot;</text>
<text x="82.30" y="350.40" font-size="8" text-anchor="middle" font-weight="normal" fill="#111" stroke="#111" stroke-width="0.25" textLength="25.4" lengthAdjust="spacingAndGlyphs" transform="rotate(0.03 82.3 350.4)">Lounge</text>
<text x="82.30" y="359.50" font-size="8" text-anchor="middle" font-weight="normal" fill="#111" stroke="#111" stroke-width="0.25" textLength="38.6" lengthAdjust="spacingAndGlyphs" transform="rotate(0.03 82.3 359.5)">4.38 x 4.12</text>
<text x="82.30" y="367.90" font-size="8" text-anchor="middle" font-weight="normal" fill="#111" stroke="#111" stroke-width="0.25" textLength="44.5" lengthAdjust="spacingAndGlyphs" transform="rotate(0.03 82.3 367.9)">14'4&quot; x 13'6&quot;</text>
<text x="343.40" y="235.25" font-size="8" text-anchor="middle" font-weight="normal" fill="#111" stroke="#111" stroke-width="0.25" textLength="21" lengthAdjust="spacingAndGlyphs" transform="rotate(0.03 343.4 235.2)">Utility</text>
<text x="343.40" y="243.75" font-size="8" text-anchor="middle" font-weight="normal" fill="#111" stroke="#111" stroke-width="0.25" textLength="39.4" lengthAdjust="spacingAndGlyphs" transform="rotate(0.03 343.4 243.8)">2.77 x 2.76</text>
<text x="343.40" y="252.10" font-size="8" text-anchor="middle" font-weight="normal" fill="#111" stroke="#111" stroke-width="0.25" textLength="34.75" lengthAdjust="spacingAndGlyphs" transform="rotate(0.03 343.4 252.1)">9'1&quot; x 9'1&quot;</text>
<text x="262.80" y="355.75" font-size="8" text-anchor="middle" font-weight="normal" fill="#111" stroke="#111" stroke-width="0.25" textLength="26.2" lengthAdjust="spacingAndGlyphs" transform="rotate(0.03 262.8 355.8)">Kitchen</text>
<text x="262.80" y="364.50" font-size="8" text-anchor="middle" font-weight="normal" fill="#111" stroke="#111" stroke-width="0.25" textLength="38.75" lengthAdjust="spacingAndGlyphs" transform="rotate(0.03 262.8 364.5)">4.17 x 4.16</text>
<text x="262.80" y="373.10" font-size="8" text-anchor="middle" font-weight="normal" fill="#111" stroke="#111" stroke-width="0.25" textLength="43.75" lengthAdjust="spacingAndGlyphs" transform="rotate(0.03 262.8 373.1)">13'8&quot; x 13'8&quot;</text>
<text x="406.20" y="345.40" font-size="8" text-anchor="middle" font-weight="normal" fill="#111" stroke="#111" stroke-width="0.25" textLength="44.1" lengthAdjust="spacingAndGlyphs" transform="rotate(0.03 406.2 345.4)">Living Room</text>
<text x="406.20" y="353.75" font-size="8" text-anchor="middle" font-weight="normal" fill="#111" stroke="#111" stroke-width="0.25" textLength="39.1" lengthAdjust="spacingAndGlyphs" transform="rotate(0.03 406.2 353.8)">4.76 x 4.59</text>
<text x="406.20" y="362.25" font-size="8" text-anchor="middle" font-weight="normal" fill="#111" stroke="#111" stroke-width="0.25" textLength="44" lengthAdjust="spacingAndGlyphs" transform="rotate(0.03 406.2 362.2)">15'7&quot; x 15'1&quot;</text>
<text x="323.70" y="466.25" font-size="8" text-anchor="middle" font-weight="normal" fill="#111" stroke="#111" stroke-width="0.25" textLength="48.6" lengthAdjust="spacingAndGlyphs" transform="rotate(0.03 323.7 466.2)">Conservatory</text>
<text x="323.70" y="474.60" font-size="8" text-anchor="middle" font-weight="normal" fill="#111" stroke="#111" stroke-width="0.25" textLength="38.85" lengthAdjust="spacingAndGlyphs" transform="rotate(0.03 323.7 474.6)">6.01 x 3.15</text>
<text x="323.70" y="483.10" font-size="8" text-anchor="middle" font-weight="normal" fill="#111" stroke="#111" stroke-width="0.25" textLength="43.75" lengthAdjust="spacingAndGlyphs" transform="rotate(0.03 323.7 483.1)">19'9&quot; x 10'4&quot;</text>
<text x="617.00" y="240.00" font-size="8" text-anchor="middle" font-weight="normal" fill="#111" stroke="#111" stroke-width="0.25" textLength="32.5" lengthAdjust="spacingAndGlyphs" transform="rotate(0.03 617.0 240.0)">Bedroom</text>
<text x="617.00" y="248.75" font-size="8" text-anchor="middle" font-weight="normal" fill="#111" stroke="#111" stroke-width="0.25" textLength="38.4" lengthAdjust="spacingAndGlyphs" transform="rotate(0.03 617.0 248.8)">4.23 x 2.73</text>
<text x="617.00" y="257.50" font-size="8" text-anchor="middle" font-weight="normal" fill="#111" stroke="#111" stroke-width="0.25" textLength="48.4" lengthAdjust="spacingAndGlyphs" transform="rotate(0.03 617.0 257.5)">13'11&quot; x 8'11&quot;</text>
<text x="615.80" y="356.50" font-size="8" text-anchor="middle" font-weight="normal" fill="#111" stroke="#111" stroke-width="0.25" textLength="32.75" lengthAdjust="spacingAndGlyphs" transform="rotate(0.03 615.8 356.5)">Bedroom</text>
<text x="615.80" y="365.25" font-size="8" text-anchor="middle" font-weight="normal" fill="#111" stroke="#111" stroke-width="0.25" textLength="38.5" lengthAdjust="spacingAndGlyphs" transform="rotate(0.03 615.8 365.2)">4.36 x 4.21</text>
<text x="615.80" y="373.60" font-size="8" text-anchor="middle" font-weight="normal" fill="#111" stroke="#111" stroke-width="0.25" textLength="47.2" lengthAdjust="spacingAndGlyphs" transform="rotate(0.03 615.8 373.6)">14'4&quot; x 13'10&quot;</text>
<text x="814.70" y="376.60" font-size="8" text-anchor="middle" font-weight="normal" fill="#111" stroke="#111" stroke-width="0.25" textLength="32.75" lengthAdjust="spacingAndGlyphs" transform="rotate(0.03 814.7 376.6)">Bedroom</text>
<text x="814.70" y="385.40" font-size="8" text-anchor="middle" font-weight="normal" fill="#111" stroke="#111" stroke-width="0.25" textLength="39" lengthAdjust="spacingAndGlyphs" transform="rotate(0.03 814.7 385.4)">3.09 x 2.87</text>
<text x="814.70" y="393.75" font-size="8" text-anchor="middle" font-weight="normal" fill="#111" stroke="#111" stroke-width="0.25" textLength="39.65" lengthAdjust="spacingAndGlyphs" transform="rotate(0.03 814.7 393.8)">10'2&quot; x 9'5&quot;</text>
<text x="953.80" y="348.90" font-size="8" text-anchor="middle" font-weight="normal" fill="#111" stroke="#111" stroke-width="0.25" textLength="32.8" lengthAdjust="spacingAndGlyphs" transform="rotate(0.03 953.8 348.9)">Bedroom</text>
<text x="953.80" y="357.60" font-size="8" text-anchor="middle" font-weight="normal" fill="#111" stroke="#111" stroke-width="0.25" textLength="39" lengthAdjust="spacingAndGlyphs" transform="rotate(0.03 953.8 357.6)">4.65 x 3.60</text>
<text x="953.80" y="366.40" font-size="8" text-anchor="middle" font-weight="normal" fill="#111" stroke="#111" stroke-width="0.25" textLength="49.15" lengthAdjust="spacingAndGlyphs" transform="rotate(0.03 953.8 366.4)">15'3&quot; x 11'10&quot;</text>
<text x="528.30" y="121.30" font-size="16.4" text-anchor="middle" font-weight="normal" fill="#111" stroke="#111" stroke-width="0.3" textLength="196.6" lengthAdjust="spacingAndGlyphs" transform="rotate(0.03 528.3 121.3)">The Ferns, Llandenny, Usk</text>
<text x="528.25" y="139.40" font-size="16.4" text-anchor="middle" font-weight="normal" fill="#111" stroke="#111" stroke-width="0.2" textLength="252.5" lengthAdjust="spacingAndGlyphs" transform="rotate(0.03 528.2 139.4)">Approximate Gross Internal Area</text>
<text x="531.10" y="156.90" font-size="16.4" text-anchor="middle" font-weight="normal" fill="#111" stroke="#111" stroke-width="0.3" textLength="154.25" lengthAdjust="spacingAndGlyphs" transform="rotate(0.03 531.1 156.9)">213 Sq M/2293 Sq Ft</text>
<text x="240.25" y="601.20" font-size="10" text-anchor="middle" font-weight="bold" fill="#000" textLength="64.5" lengthAdjust="spacingAndGlyphs" transform="rotate(0.03 240.2 601.2)">Ground Floor</text>
<text x="775.00" y="601.20" font-size="10" text-anchor="middle" font-weight="bold" fill="#000" textLength="50" lengthAdjust="spacingAndGlyphs" transform="rotate(0.03 775.0 601.2)">First Floor</text>
<text x="511.30" y="630.80" font-size="17.4" text-anchor="middle" font-weight="normal" fill="#8c8c8c" textLength="983.5" lengthAdjust="spacingAndGlyphs" transform="rotate(0.03 511.3 630.8)">Please note that the location of doors, windows and other items are approximate and this floorplan is to be used for illustrative</text>
<text x="511.75" y="651.60" font-size="17.4" text-anchor="middle" font-weight="normal" fill="#8c8c8c" textLength="434" lengthAdjust="spacingAndGlyphs" transform="rotate(0.03 511.8 651.6)">purposes only. Unauthorized reproduction is prohibited.</text>
<circle cx="940.5" cy="150" r="10.3" fill="#fff" stroke="#000" stroke-width="2"/>
<polygon points="953.40,165.60 948.60,152.60 941.80,159.20" fill="#000" stroke="none" stroke-width="0"/>
<text x="940.5" y="153.3" font-size="9" font-weight="bold" text-anchor="middle" fill="#000" transform="rotate(-48 940.5 150)">N</text>
</svg>
</body></html>
